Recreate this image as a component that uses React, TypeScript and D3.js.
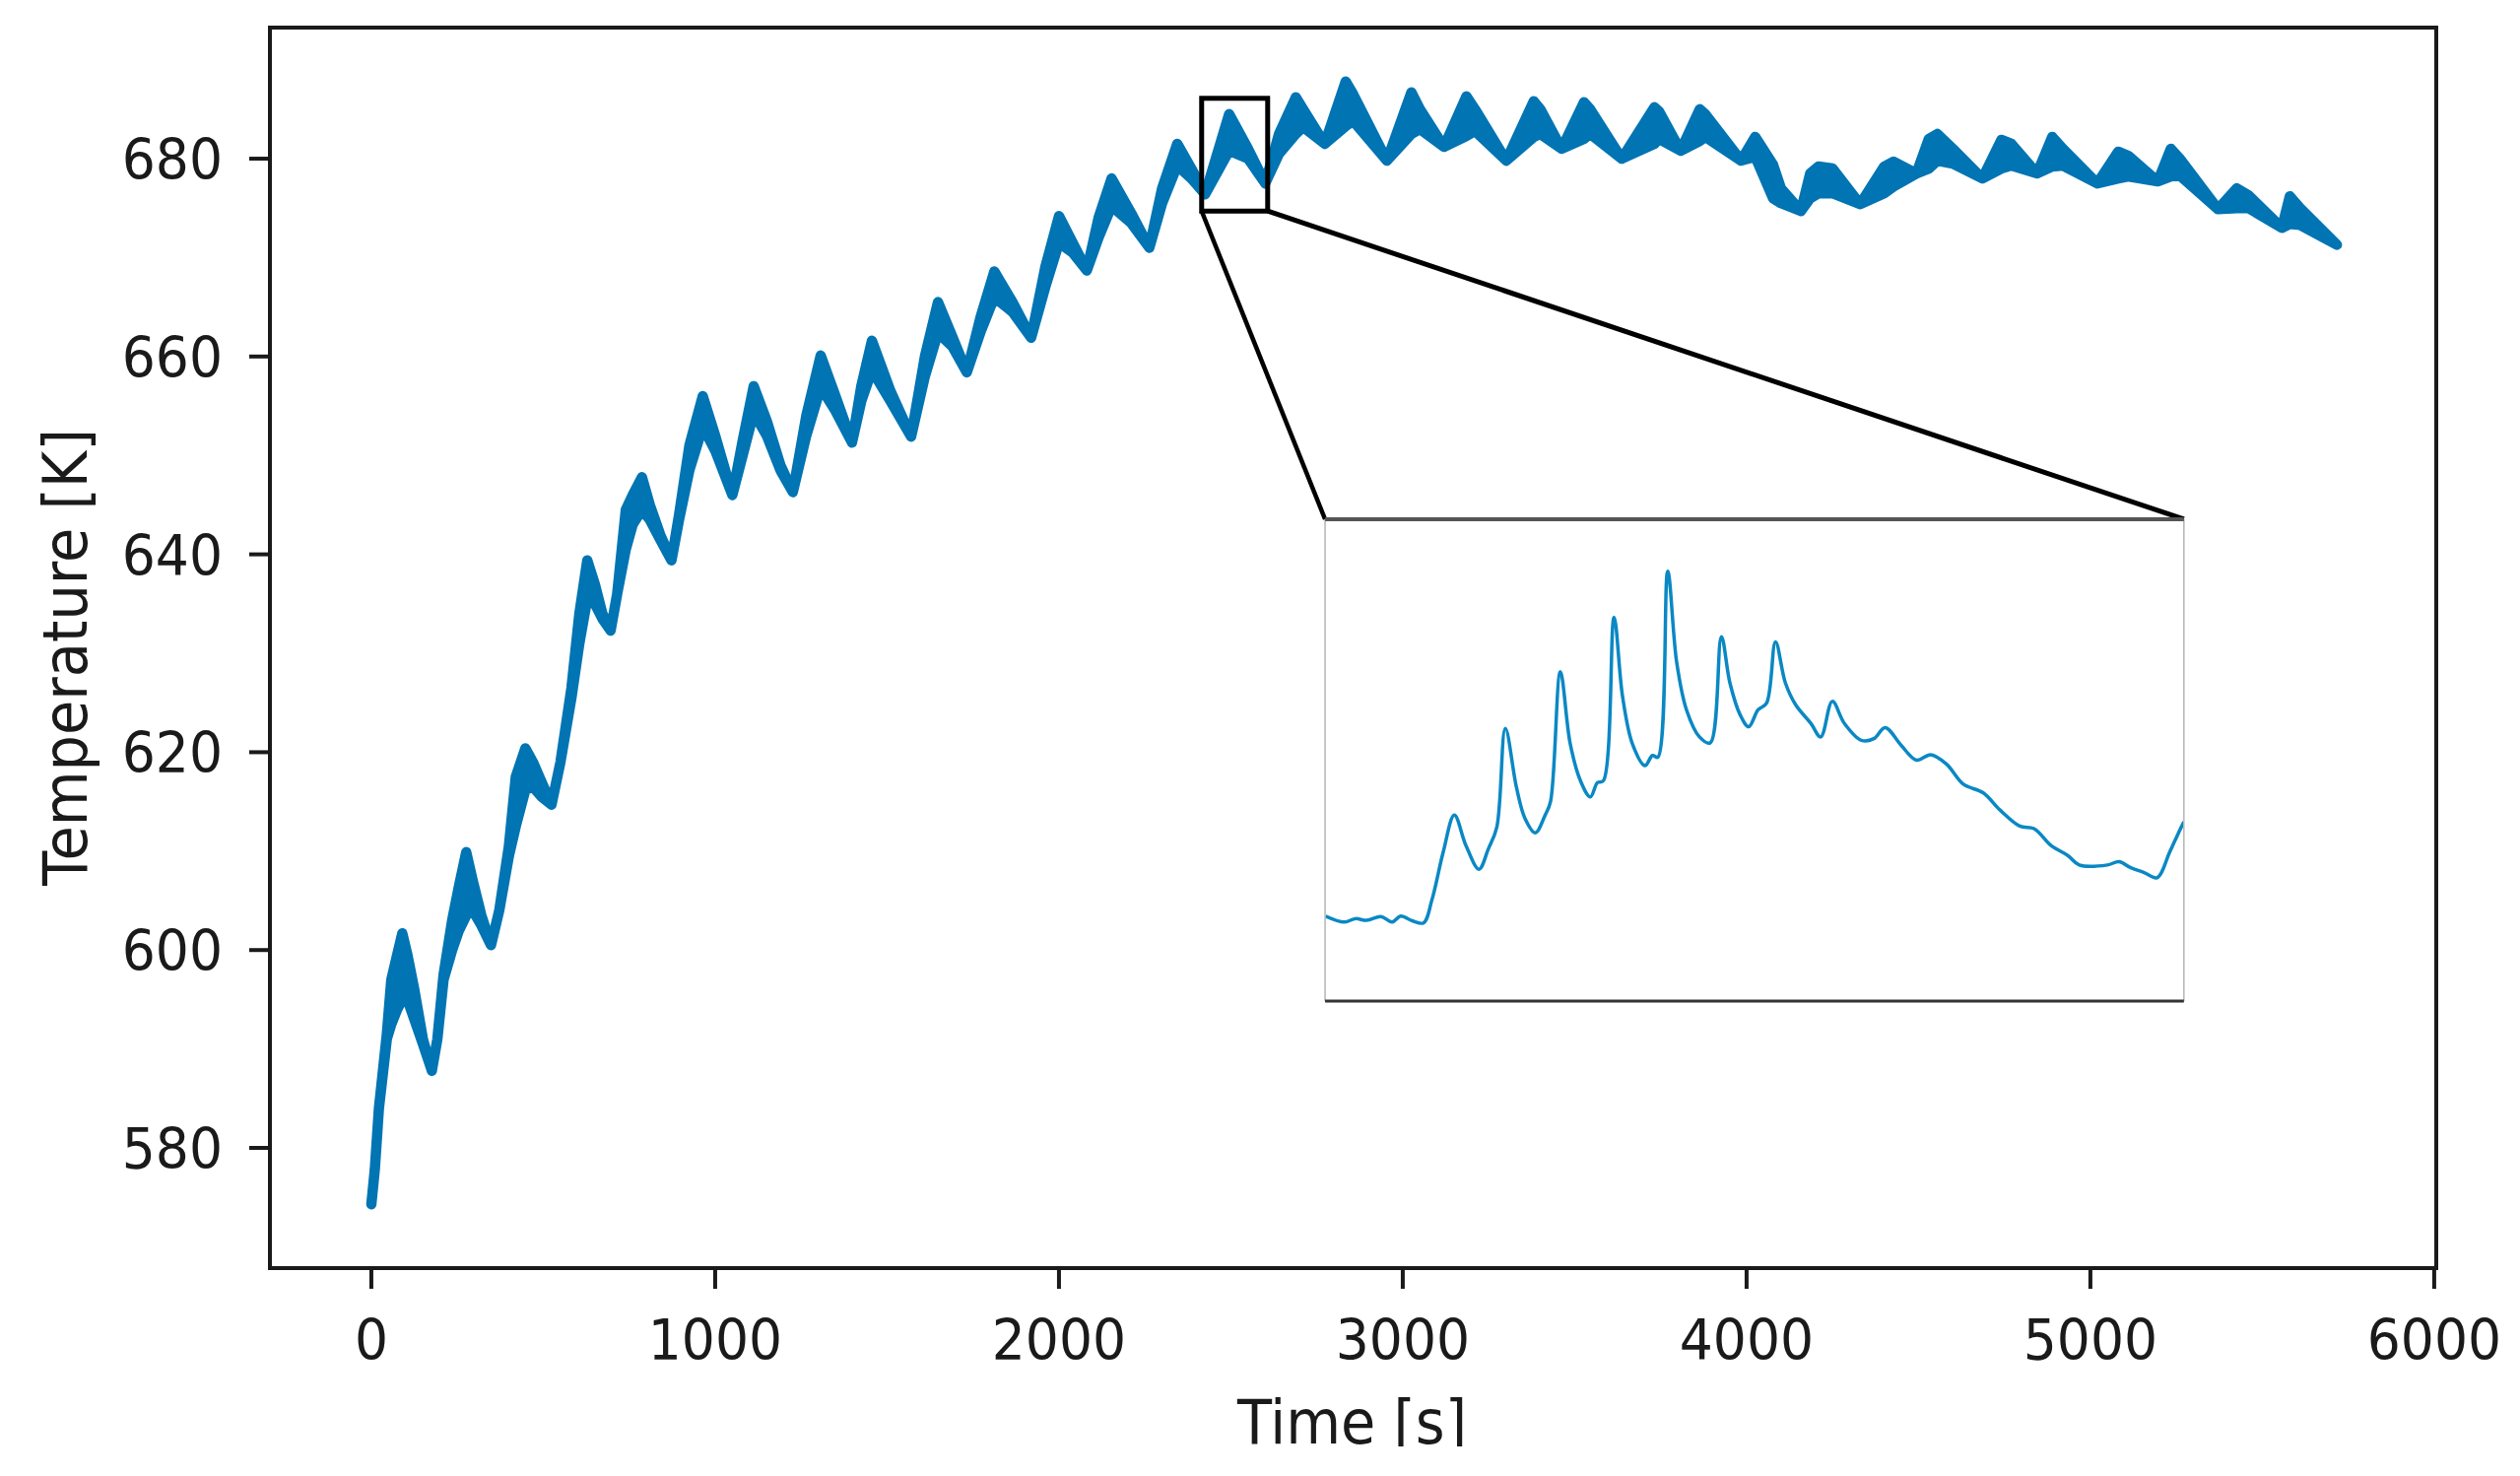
import React from "react";
import * as d3 from "d3";

// main record: time [s], upper and lower envelope of the noisy temperature band [K]
const timeS = [
  0, 10, 22, 45, 58, 75, 90, 105, 125, 150, 176, 192, 210, 235, 255, 276, 295, 320, 348, 372,
  400, 420, 448, 470, 495, 524, 550, 582, 605, 628, 650, 672, 696, 715, 740, 760, 787, 810, 840, 873,
  895, 925, 964, 1000, 1050, 1080, 1112, 1150, 1190, 1226, 1265, 1307, 1350, 1398, 1425, 1456, 1510, 1570,
  1610, 1648, 1690, 1732, 1772, 1812, 1865, 1919, 1960, 2000, 2040, 2081, 2115, 2153, 2210, 2263, 2300,
  2344, 2385, 2425, 2495, 2550, 2600, 2640, 2689, 2710, 2773, 2834, 2856, 2954, 3025, 3050, 3120, 3185,
  3210, 3301, 3381, 3400, 3462, 3527, 3545, 3637, 3732, 3745, 3808, 3864, 3880, 3984, 4025, 4077, 4100,
  4158, 4185, 4209, 4250, 4330, 4400, 4428, 4494, 4530, 4555, 4600, 4686, 4741, 4770, 4845, 4889, 4920,
  5020, 5081, 5110, 5196, 5234, 5260, 5371, 5426, 5460, 5557, 5580, 5610, 5717,
];
const upperK = [
  574.3, 577.8, 584, 591.5, 597, 599.5, 601.7, 599.5, 596, 591, 587.8, 591, 597.5, 603, 606.5, 609.9, 607, 603.5, 600.5, 604,
  610.5, 617.5, 620.4, 619, 617, 614.7, 619, 626.5, 634, 639.4, 637, 634, 632.3, 636, 644.5, 646, 647.8, 645, 642, 639.4,
  644, 651, 656, 652, 646, 651.5, 657, 653.5, 649, 646.3, 654, 660.1, 656, 651.3, 657, 661.6, 656.5, 651.9,
  660, 665.5, 662, 658.4, 664, 668.6, 665.5, 661.9, 669, 674.2, 671.5, 668.7, 674, 678, 674.5, 671, 677,
  681.5, 679, 676.4, 684.5, 681, 677.5, 682.5, 686.2, 685, 681.5, 687.8, 686.5, 679.8, 686.7, 685, 681.2, 686.3,
  685, 679.8, 685.8, 685, 681, 685.7, 685, 680, 685.2, 684.8, 680.8, 685, 684.5, 679.8, 682.2, 679.4, 677,
  674.7, 678.5, 679.2, 679, 675.4, 679.2, 679.7, 678.5, 682, 682.5, 681, 678, 681.9, 681.5, 678.5, 682.2, 681,
  677.5, 680.7, 680.3, 677.7, 681, 680, 674.9, 677, 676.3, 673, 676.2, 675, 671.3,
];
const lowerK = [
  574.3, 577.8, 584, 591, 592.5, 594, 595, 595, 593, 590.5, 587.8, 591, 597, 600, 602, 603.5, 604, 602.5, 600.5, 604,
  609.5, 612.5, 616.2, 616.5, 615.5, 614.7, 619, 625.5, 631, 635.5, 635, 633.5, 632.3, 636, 640.5, 643, 644.5, 643.5, 641.5, 639.4,
  643.5, 648.5, 652.9, 650.5, 646, 650, 654.3, 652, 648.5, 646.3, 652, 656.9, 654.5, 651.3, 655.5, 658.6, 655.5, 651.9,
  658, 662.4, 661, 658.4, 662.5, 666, 664.5, 661.9, 667, 671.5, 670.5, 668.7, 672, 675.2, 673.5, 671, 675.5,
  679.3, 678, 676.4, 680.8, 680, 677.5, 680.5, 682.5, 683.2, 681.5, 683.3, 683.8, 679.8, 682.5, 683, 681.2, 682.3,
  682.8, 679.8, 682.2, 682.5, 681, 682, 682.5, 680, 681.5, 682, 680.8, 681.8, 682.2, 679.8, 680.2, 676, 675.5,
  674.7, 676, 676.5, 676.5, 675.4, 676.5, 677.2, 678.5, 679, 679.8, 679.5, 678, 679, 679.3, 678.5, 679.2, 679.3,
  677.5, 678, 678.2, 677.7, 678.2, 678.3, 674.9, 675, 675, 673, 673.4, 673.3, 671.3,
];

// zoomed detail shown in the inset
const insetTimeS = [
  2415.1, 2419.3, 2421.8, 2424.3, 2427.5, 2430.0, 2431.9, 2434.5, 2437.0, 2438.9, 2441.4, 2443.9, 2446.5, 2449.4, 2451.5,
  2453.4, 2455.3, 2457.8, 2459.7, 2462.0, 2464.2, 2465.4, 2467.6, 2469.8, 2472.1, 2474.3, 2475.9, 2477.2, 2479.6, 2481.5,
  2483.7, 2486.5, 2488.2, 2489.4, 2491.6, 2493.6, 2495.8, 2498.7, 2501.1, 2503.6, 2505.5, 2507.8, 2509.7, 2511.8, 2513.7,
  2515.7, 2517.9, 2520.2, 2523.6, 2525.8, 2528.4, 2531.1, 2534.9, 2537.7, 2540.2, 2543.8, 2547.2, 2550.4, 2553.9, 2557.7,
  2562.1, 2565.9, 2570.3, 2573.5, 2577.3, 2581.1, 2583.6, 2589.9, 2592.5, 2595.0, 2598.1, 2601.0, 2603.8, 2605.7, 2607.0,
];
const insetTempK = [
  676.71, 676.57, 676.65, 676.61, 676.70, 676.57, 676.71, 676.60, 676.55, 677.10, 678.22, 679.10, 678.38, 677.82, 678.30,
  678.82, 681.15, 679.75, 679.02, 678.68, 679.10, 679.42, 682.49, 680.79, 679.91, 679.53, 679.87, 679.91, 683.78, 681.91,
  680.79, 680.27, 680.51, 680.47, 684.87, 682.72, 681.59, 680.95, 680.81, 683.32, 682.23, 681.47, 681.19, 681.59, 681.75,
  683.20, 682.23, 681.71, 681.27, 680.95, 681.79, 681.27, 680.87, 680.91, 681.17, 680.75, 680.40, 680.53, 680.31, 679.83,
  679.63, 679.22, 678.84, 678.78, 678.38, 678.14, 677.92, 677.92, 678.00, 677.86, 677.74, 677.62, 678.22, 678.66, 678.94,
];

const xTicks = [0, 1000, 2000, 3000, 4000, 5000, 6000];
const yTicks = [580, 600, 620, 640, 660, 680];
const xDomain = [-295, 6006];
const yDomain = [567.85, 693.25];
const zoomTime = [2415, 2607];
const zoomTemp = [674.7, 686.1];
const insetSpanTime = [2774, 5272]; // where the inset sits, in main-axes data units
const insetSpanTemp = [594.84, 643.55];

const W = 2558;
const H = 1498;
const left = 274, right = 2473, top = 28, bottom = 1287;
const FONT = "'DejaVu Sans', Verdana, sans-serif";
const BLUE = "#0174b3";
const INK = "#1a1a1a";

const App = () => {
  const x = d3.scaleLinear().domain(xDomain).range([left, right]);
  const y = d3.scaleLinear().domain(yDomain).range([bottom, top]);

  const rows = timeS.map((t, i) => ({ t, u: upperK[i], l: lowerK[i] }));
  const band = d3.area<any>()
    .x((d) => x(d.t))
    .y0((d) => y(d.l))
    .y1((d) => y(d.u));

  // inset frame in pixels
  const ix0 = x(insetSpanTime[0]), ix1 = x(insetSpanTime[1]);
  const iy0 = y(insetSpanTemp[1]), iy1 = y(insetSpanTemp[0]);
  const xi = d3.scaleLinear().domain(zoomTime).range([ix0, ix1]);
  const yi = d3.scaleLinear().domain(zoomTemp).range([iy1, iy0]);
  const insetLine = d3.line<number>()
    .x((_, i) => xi(insetTimeS[i]))
    .y((d) => yi(d))
    .curve(d3.curveCatmullRom.alpha(0.5));

  const bx0 = x(zoomTime[0]), bx1 = x(zoomTime[1]);
  const by0 = y(zoomTemp[1]), by1 = y(zoomTemp[0]);

  return (
    <svg width={W} height={H} style={{ position: "absolute", left: 0, top: 0, display: "block", background: "#fff" }}>
      <defs>
        <clipPath id="insetClip">
          <rect x={ix0} y={iy0} width={ix1 - ix0} height={iy1 - iy0} />
        </clipPath>
        <clipPath id="labelClip">
          <rect x={0} y={0} width={W} height={1468} />
        </clipPath>
      </defs>
      <rect x={0} y={0} width={W} height={H} fill="#fff" />

      {/* main band */}
      <path d={band(rows) || ""} fill={BLUE} stroke={BLUE} strokeWidth={10.5} strokeLinejoin="round" />

      {/* zoom box and connectors */}
      <rect x={bx0} y={by0} width={bx1 - bx0} height={by1 - by0} fill="none" stroke="#000" strokeWidth={5} />
      <line x1={bx0} y1={by1} x2={ix0} y2={iy0} stroke="#000" strokeWidth={4.5} />
      <line x1={bx1} y1={by1} x2={ix1} y2={iy0} stroke="#000" strokeWidth={5} />

      {/* inset */}
      <rect x={ix0} y={iy0} width={ix1 - ix0} height={iy1 - iy0} fill="#fff" />
      <path d={insetLine(insetTempK) || ""} fill="none" stroke="#0a88c4" strokeWidth={3.5} clipPath="url(#insetClip)" strokeLinejoin="round" />
      <line x1={ix0} y1={iy0} x2={ix0} y2={iy1} stroke="#b4b4b4" strokeWidth={1.5} />
      <line x1={ix1} y1={iy0} x2={ix1} y2={iy1} stroke="#b4b4b4" strokeWidth={1.5} />
      <line x1={ix0} y1={iy0} x2={ix1} y2={iy0} stroke="#555" strokeWidth={4} />
      <line x1={ix0} y1={iy1} x2={ix1} y2={iy1} stroke="#333" strokeWidth={3} />

      {/* spines */}
      <rect x={left} y={top} width={right - left} height={bottom - top} fill="none" stroke={INK} strokeWidth={4} />

      {/* x axis */}
      {xTicks.map((t) => (
        <g key={"x" + t}>
          <line x1={x(t)} x2={x(t)} y1={bottom} y2={bottom + 21} stroke={INK} strokeWidth={4} />
          <text transform={`translate(${x(t)},1380) scale(0.94,1)`} textAnchor="middle" fontFamily={FONT} fontSize={57} fill={INK}>
            {t}
          </text>
        </g>
      ))}
      {/* y axis */}
      {yTicks.map((v) => (
        <g key={"y" + v}>
          <line x1={left - 21} x2={left} y1={y(v)} y2={y(v)} stroke={INK} strokeWidth={4} />
          <text transform={`translate(226,${y(v) + 21}) scale(0.94,1)`} textAnchor="end" fontFamily={FONT} fontSize={57} fill={INK}>
            {v}
          </text>
        </g>
      ))}

      <g clipPath="url(#labelClip)">
        <text transform="translate(1372.5,1465) scale(0.91,1)" textAnchor="middle" fontFamily={FONT} fontSize={63} fill={INK}>
          Time [s]
        </text>
      </g>
      <text transform="translate(87.5,667) rotate(-90) scale(0.91,1)" textAnchor="middle" fontFamily={FONT} fontSize={63} fill={INK}>
        Temperature [K]
      </text>
    </svg>
  );
};

export default App;
